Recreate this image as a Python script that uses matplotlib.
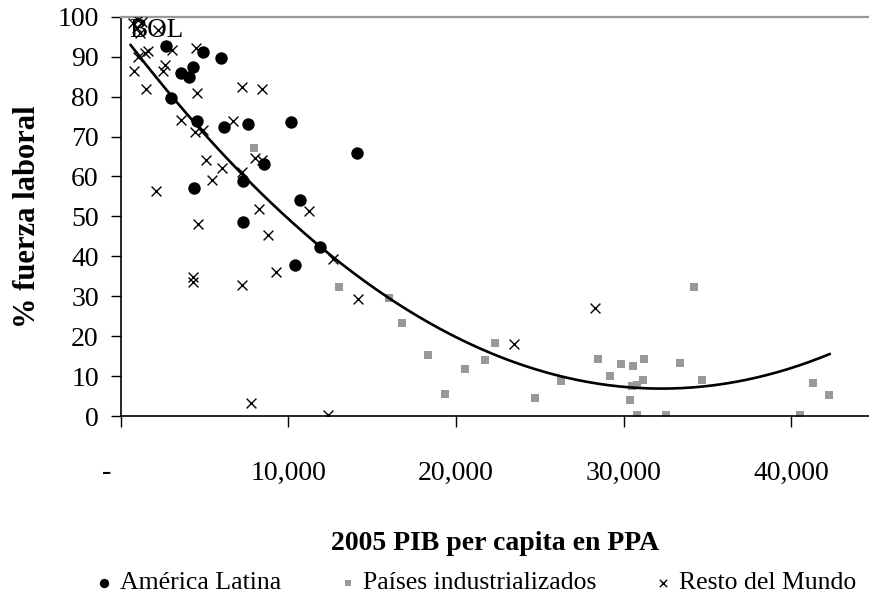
import numpy as np
import matplotlib
matplotlib.use("Agg")
import matplotlib.pyplot as plt
from matplotlib.ticker import FuncFormatter

# America Latina
latam_gdp = [2690, 4880, 5950, 4280, 3560, 4080, 2970, 4520, 6150, 7600,
             10170, 8540, 7270, 4360, 7270, 10400, 14110, 10690, 11880]
latam_pct = [92.7, 91.1, 89.6, 87.5, 86.0, 84.8, 79.6, 73.8, 72.3, 73.2,
             73.6, 63.2, 58.9, 57.1, 48.5, 37.8, 65.8, 54.1, 42.3]

# Paises industrializados
ind_gdp = [7940, 13015, 15980, 16780, 18310, 19330, 20520, 21730, 22330,
           24740, 26270, 28460, 29170, 29850, 30540, 31220, 31160, 30780,
           30490, 30370, 30810, 32510, 33370, 34230, 34670, 40560, 41330,
           42270]
ind_pct = [67.0, 32.2, 29.5, 23.2, 15.3, 5.6, 11.7, 14.0, 18.4,
           4.5, 8.8, 14.2, 10.1, 13.0, 12.4, 14.2, 8.9, 7.8,
           7.5, 4.0, 0.3, 0.3, 13.4, 32.2, 8.9, 0.3, 8.2,
           5.2]

# Resto del Mundo
rest_gdp = [720, 1015, 955, 1130, 1250, 2210, 1630, 1430, 1035, 3025,
            4480, 780, 2490, 2630, 1490, 4560, 7220, 8420, 3580, 4420,
            4920, 6710, 5080, 6030, 5430, 7200, 8000, 8400, 2090, 8240,
            4620, 8760, 4320, 4320, 7220, 9270, 7740, 12340, 11240, 12640,
            14150, 23480, 28320]
rest_pct = [98.5, 99.2, 97.2, 96.0, 98.7, 96.7, 91.3, 90.9, 90.0, 91.7,
            92.1, 86.5, 86.5, 88.0, 82.0, 81.0, 82.3, 82.0, 74.2, 71.1,
            71.7, 73.9, 64.2, 62.2, 59.1, 61.2, 64.7, 64.2, 56.3, 51.9,
            48.0, 45.3, 34.9, 33.5, 32.7, 36.1, 3.3, 0.25, 51.4, 39.3,
            29.3, 18.0, 27.1]

x_ticks = [0, 10000, 20000, 30000, 40000]
y_ticks = [0, 10, 20, 30, 40, 50, 60, 70, 80, 90, 100]


def fmt_x(v, pos):
    '''Excel accounting style: zero shown as a dash'''
    if v == 0:
        return "-    "
    return f"{v:,.0f}"


def graph():
    '''Graph function'''
    plt.rcParams['font.family'] = ['Liberation Serif', 'DejaVu Serif']

    fig = plt.figure(figsize=(8.69, 5.99), dpi=100)
    ax = fig.add_axes([0.1392, 0.3055, 0.8608, 0.6666])

    ax.scatter(ind_gdp, ind_pct, marker='s', s=40, color='#999999',
               linewidths=0, label='Países industrializados', zorder=2)
    ax.scatter(latam_gdp, latam_pct, marker='o', s=80, color='black',
               linewidths=0, label='América Latina', zorder=3)
    ax.scatter(rest_gdp, rest_pct, marker='x', s=50, color='black',
               linewidths=1.0, label='Resto del Mundo', zorder=3)

    # polynomial trend line (order 2) over all countries
    all_x = np.array(latam_gdp + ind_gdp + rest_gdp, dtype=float)
    all_y = np.array(latam_pct + ind_pct + rest_pct, dtype=float)
    coef = np.polyfit(all_x, all_y, 2)
    xs = np.linspace(580, 42300, 200)
    ax.plot(xs, np.polyval(coef, xs), color='black', lw=1.9, zorder=4)

    ax.text(500, 96.6, "BOL", fontsize=19.5, ha='left', va='center',
            zorder=5)

    ax.set_xlim(0, 44650)
    ax.set_ylim(0, 100)
    ax.set_xticks(x_ticks)
    ax.set_yticks(y_ticks)
    ax.xaxis.set_major_formatter(FuncFormatter(fmt_x))
    ax.tick_params(axis='x', direction='out', length=8, width=1,
                   pad=24, labelsize=20)
    ax.tick_params(axis='y', direction='out', length=7, width=1,
                   pad=9, labelsize=20)

    ax.spines['right'].set_visible(False)
    ax.spines['top'].set_color('#999999')
    ax.spines['top'].set_linewidth(1.6)
    ax.spines['left'].set_linewidth(1.2)
    ax.spines['bottom'].set_linewidth(1.2)

    ax.set_xlabel("2005 PIB per capita en PPA", fontsize=20,
                  fontweight='bold', labelpad=33)
    ax.set_ylabel("% fuerza laboral", fontsize=22, fontweight='bold',
                  labelpad=11)

    handles, labels = ax.get_legend_handles_labels()
    order = [1, 0, 2]
    fig.legend([handles[i] for i in order], [labels[i] for i in order],
               loc='center', bbox_to_anchor=(0.548, 0.027), ncol=3,
               frameon=False, fontsize=18.5, handlelength=0.6,
               handletextpad=0.3, columnspacing=2.3, markerscale=0.75)

    fig.savefig("out.png", dpi=100)


def main():
    '''Main'''
    graph()


if __name__ == "__main__":
    main()
